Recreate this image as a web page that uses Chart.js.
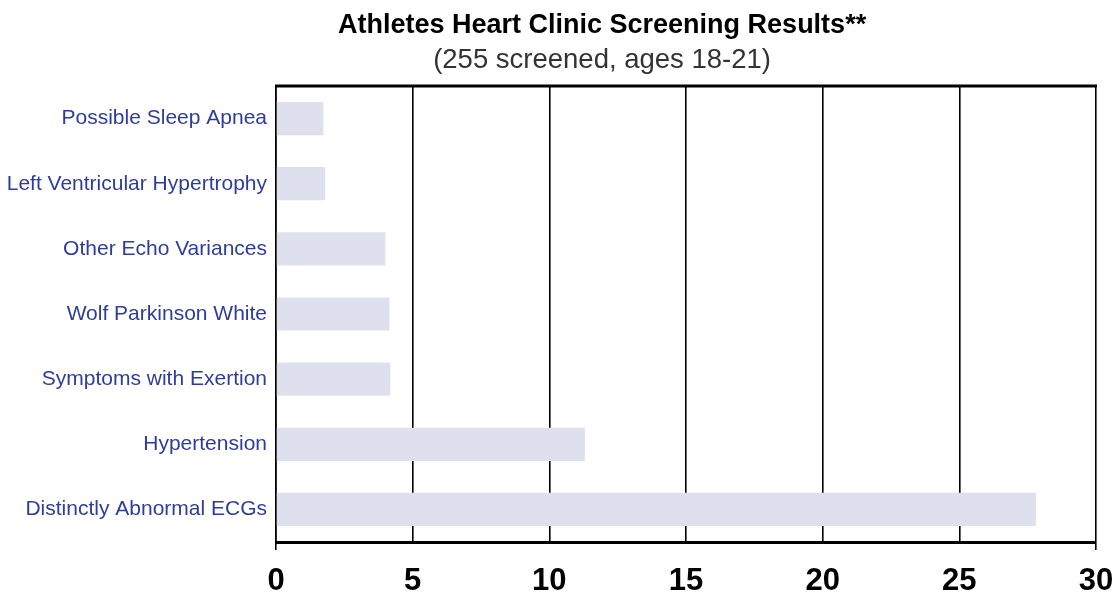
<!DOCTYPE html>
<html>
<head>
<meta charset="utf-8">
<script src="https://cdn.jsdelivr.net/npm/chart.js@4"></script>
<style>
  html, body { margin: 0; padding: 0; background: #fff; }
  #wrap { width: 1117px; height: 596px; }
</style>
</head>
<body>
<div id="wrap"><canvas id="chart"></canvas></div>
<script>
// Chart data
const titleText = 'Athletes Heart Clinic Screening Results**';
const subtitleText = '(255 screened, ages 18-21)';
const categories = [
    'Possible Sleep Apnea',
    'Left Ventricular Hypertrophy',
    'Other Echo Variances',
    'Wolf Parkinson White',
    'Symptoms with Exertion',
    'Hypertension',
    'Distinctly Abnormal ECGs'
];
const values = [1.73, 1.8, 4.0, 4.15, 4.18, 11.3, 27.8];
const xTicks = [0, 5, 10, 15, 20, 25, 30];

const FONT = '"Liberation Sans", Helvetica, Arial, sans-serif';

// Title + subtitle, and the heavy top border of the plot
const framePlugin = {
    id: 'frame',
    afterDraw(chart) {
        const ctx = chart.ctx;
        const area = chart.chartArea;
        ctx.save();
        ctx.strokeStyle = '#000';
        ctx.lineWidth = 3;
        ctx.beginPath();
        ctx.moveTo(area.left - 1, area.top);
        ctx.lineTo(area.right + 1, area.top);
        ctx.stroke();

        const cx = chart.width * 0.539;
        ctx.fillStyle = '#000';
        ctx.textAlign = 'center';
        ctx.textBaseline = 'middle';
        ctx.font = 'bold 27px ' + FONT;
        ctx.fillText(titleText, cx, 26);
        ctx.fillStyle = '#333';
        ctx.font = '27.5px ' + FONT;
        ctx.fillText(subtitleText, cx, 60);
        ctx.restore();
    }
};

function initializeChart() {
    new Chart(document.getElementById('chart'), {
        type: 'bar',
        data: {
            labels: categories,
            datasets: [{
                data: values,
                backgroundColor: '#dfe0ee',
                borderWidth: 0,
                barPercentage: 0.51,
                categoryPercentage: 1
            }]
        },
        options: {
            indexAxis: 'y',
            responsive: true,
            maintainAspectRatio: false,
            animation: false,
            layout: {
                padding: { top: 86, right: 0, left: 0, bottom: 0 }
            },
            plugins: {
                legend: { display: false },
                tooltip: { enabled: false }
            },
            scales: {
                x: {
                    min: 0,
                    max: 30,
                    afterBuildTicks(scale) {
                        scale.ticks = xTicks.map(v => ({ value: v }));
                    },
                    afterFit(scale) {
                        scale.height = 54;
                        scale.paddingRight = 21;
                    },
                    grid: {
                        color: '#000',
                        lineWidth: 1.6,
                        tickLength: 8,
                        tickColor: ctx => (ctx.index === 0 || ctx.index === xTicks.length - 1) ? '#000' : 'rgba(0,0,0,0)'
                    },
                    border: { color: '#000', width: 3 },
                    ticks: {
                        color: '#000',
                        padding: 13,
                        font: { family: FONT, size: 31, weight: 'bold' }
                    }
                },
                y: {
                    afterFit(scale) {
                        scale.width = 276;
                    },
                    grid: { display: false, drawTicks: false },
                    border: { color: '#000', width: 1.6 },
                    ticks: {
                        color: '#2e3d9c',
                        padding: 9,
                        font: { family: FONT, size: 21 }
                    }
                }
            }
        },
        plugins: [framePlugin]
    });
}

document.addEventListener('DOMContentLoaded', initializeChart);
</script>
</body>
</html>
